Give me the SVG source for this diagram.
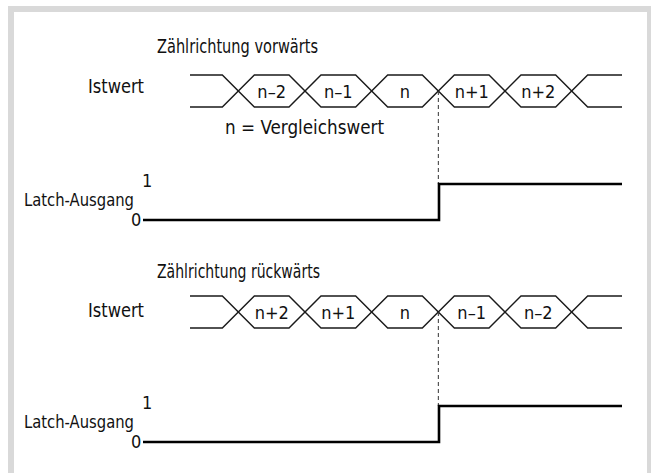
<svg xmlns="http://www.w3.org/2000/svg" width="651" height="473" viewBox="0 0 651 473">
<style>
text{font-family:"Liberation Sans Narrow","DejaVu Sans Condensed","Liberation Sans",sans-serif;font-size:19px;fill:#111}
.lbl{text-anchor:middle;font-size:18px}
.lv{font-size:18px}
.la{font-size:17px}
.bus{fill:none;stroke:#1a1a1a;stroke-width:1.4;stroke-linejoin:miter}
.latch{fill:none;stroke:#000;stroke-width:2.6;stroke-linejoin:miter}
.dash{fill:none;stroke:#333;stroke-width:1;stroke-dasharray:4 3}
</style>
<rect x="0" y="0" width="651" height="473" fill="#fff"/>
<rect x="11" y="9" width="639" height="500" fill="none" stroke="#d9d9d9" stroke-width="6"/>
<g id="up">
<text x="157" y="53" textLength="161" lengthAdjust="spacingAndGlyphs">Zählrichtung vorwärts</text>
<text x="88" y="93" textLength="56" lengthAdjust="spacingAndGlyphs">Istwert</text>
<g id="bus-up">
<path class="bus" d="M190,75 H222.33 L254.33,107 H289 L321,75 H355.67 L387.67,107 H422.33 L454.33,75 H489 L521,107 H555.67 L587.67,75 H622"/>
<path class="bus" d="M190,107 H222.33 L254.33,75 H289 L321,107 H355.67 L387.67,75 H422.33 L454.33,107 H489 L521,75 H555.67 L587.67,107 H622"/>
<text class="lbl" x="271.7" y="97.5">n–2</text>
<text class="lbl" x="338.3" y="97.5">n–1</text>
<text class="lbl" x="405" y="97.5">n</text>
<text class="lbl" x="471.7" y="97.5">n+1</text>
<text class="lbl" x="538.3" y="97.5">n+2</text>
</g>
<text x="225" y="134" textLength="159" lengthAdjust="spacingAndGlyphs">n = Vergleichswert</text>
<text class="la" x="24" y="206" textLength="110" lengthAdjust="spacingAndGlyphs">Latch-Ausgang</text>
<text class="lv" x="142" y="187">1</text>
<text class="lv" x="131" y="226">0</text>
</g>
<g id="down">
<text x="157" y="278" textLength="163" lengthAdjust="spacingAndGlyphs">Zählrichtung rückwärts</text>
<text x="88" y="317" textLength="56" lengthAdjust="spacingAndGlyphs">Istwert</text>
<g id="bus-down">
<path class="bus" d="M190,296 H222.33 L254.33,328 H289 L321,296 H355.67 L387.67,328 H422.33 L454.33,296 H489 L521,328 H555.67 L587.67,296 H622"/>
<path class="bus" d="M190,328 H222.33 L254.33,296 H289 L321,328 H355.67 L387.67,296 H422.33 L454.33,328 H489 L521,296 H555.67 L587.67,328 H622"/>
<text class="lbl" x="271.7" y="318.5">n+2</text>
<text class="lbl" x="338.3" y="318.5">n+1</text>
<text class="lbl" x="405" y="318.5">n</text>
<text class="lbl" x="471.7" y="318.5">n–1</text>
<text class="lbl" x="538.3" y="318.5">n–2</text>
</g>
<text class="la" x="24" y="428" textLength="110" lengthAdjust="spacingAndGlyphs">Latch-Ausgang</text>
<text class="lv" x="142" y="409">1</text>
<text class="lv" x="131" y="448">0</text>
</g>
<g id="connectors">
<path class="dash" d="M438.33,91 V184"/>
<path class="latch" d="M143,220 H439 V184 H622"/>
<path class="dash" d="M438.33,312 V406"/>
<path class="latch" d="M143,442 H439 V406 H622"/>
</g>
</svg>
